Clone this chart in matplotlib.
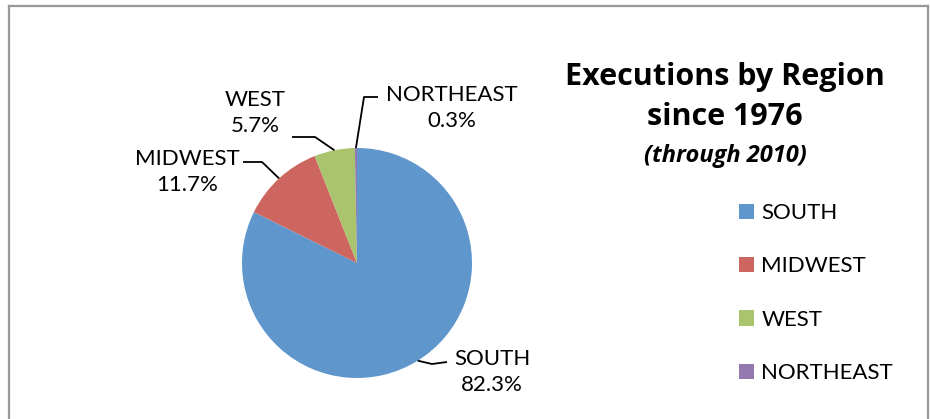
import matplotlib.pyplot as plt
import numpy as np
from matplotlib.lines import Line2D

regions = ['SOUTH', 'MIDWEST', 'WEST', 'NORTHEAST']
shares = [82.3, 11.7, 5.7, 0.3]
colors = ['#5F96CC', '#CD6660', '#A9C46D', '#9479AE']

# label text position (px, from top-left) and elbow of the leader line
label_pos = [(492, 372), (187, 172), (255, 113), (452, 108)]
elbows = [[(432, 364), (447, 362)],
          [(262, 162), (243, 162)],
          [(315, 137), (292, 137)],
          [(364, 97), (378, 97)]]

plt.rcParams['font.family'] = ['Lato', 'DejaVu Sans']

W, H = 930, 419
fig = plt.figure(figsize=(W / 100, H / 100), dpi=100)
ax = fig.add_axes([0, 0, 1, 1])

cx, cy, r = 357, 263, 115
wedges, _ = ax.pie(shares, colors=colors, startangle=90, counterclock=False,
                   center=(cx, H - cy), radius=r, wedgeprops=dict(linewidth=0))
ax.set_xlim(0, W)
ax.set_ylim(0, H)
ax.set_aspect('equal')
ax.axis('off')

for w, name, val, (tx, ty), elb in zip(wedges, regions, shares, label_pos, elbows):
    ang = np.deg2rad((w.theta1 + w.theta2) / 2)
    ex = cx + r * np.cos(ang)
    ey = (H - cy) + r * np.sin(ang)
    xs = [ex] + [p[0] for p in elb]
    ys = [ey] + [H - p[1] for p in elb]
    ax.plot(xs, ys, color='black', lw=1.3, solid_capstyle='butt')
    ax.text(tx, H - ty, f'{name}\n{val:.1f}%', ha='center', va='center',
            fontsize=16, linespacing=1.35)

tfont = ['Open Sans', 'DejaVu Sans']
fig.text(725 / W, 1 - 77 / H, 'Executions by Region', ha='center', va='center',
         fontsize=22, fontweight='bold', family=tfont)
fig.text(725 / W, 1 - 117 / H, 'since 1976', ha='center', va='center',
         fontsize=22, fontweight='bold', family=tfont)
fig.text(725 / W, 1 - 156 / H, '(through 2010)', ha='center', va='center',
         fontsize=17, fontweight='bold', fontstyle='italic', family=tfont)

ax.legend(wedges, regions, loc='upper left', bbox_to_anchor=(739 / W, 1 - 203 / H),
          frameon=False, fontsize=16, handlelength=0.68, handleheight=0.68,
          handletextpad=0.32, labelspacing=1.5, borderaxespad=0, borderpad=0)

# chart frame (bottom edge falls outside the picture)
for xs, ys in [([9, 9], [0, 413]), ([9, 928], [413, 413]), ([928, 928], [413, 0])]:
    fig.add_artist(Line2D(np.array(xs) / W, np.array(ys) / H, color='#999999', lw=1.6))

fig.savefig('out.png', dpi=100)
